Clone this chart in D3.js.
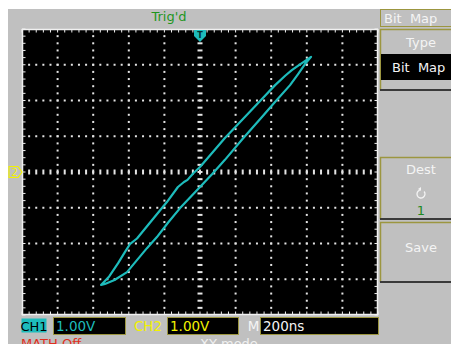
<!DOCTYPE html>
<html>
<head>
<meta charset="utf-8">
<script src="https://cdn.jsdelivr.net/npm/d3@7"></script>
<style>
  html, body { margin: 0; padding: 0; background: #ffffff; }
  svg { display: block; }
  text { font-family: "DejaVu Sans", sans-serif; white-space: pre; }
</style>
</head>
<body>
<script>
// XY-mode trace: CH1 drives X, CH2 drives Y (volts), one pass round the loop
const traceX = [-2.78, -2.55, -2.30, -2.11, -1.97, -1.77, -1.35, -0.93, -0.62, -0.45, -0.35, -0.18, 0.00,
                0.70, 1.26, 1.70, 2.11, 2.40, 2.58, 2.75, 3.12,
                2.95, 2.75, 2.53, 2.10, 1.74, 1.20, 0.70, 0.35, 0.00, -0.56, -0.90, -1.21, -1.49,
                -1.80, -2.05, -2.40, -2.67];
const traceY = [-3.16, -2.92, -2.55, -2.24, -2.02, -1.86, -1.35, -0.84, -0.42, -0.28, -0.22, -0.03, 0.14,
                0.95, 1.54, 2.00, 2.43, 2.70, 2.85, 2.97, 3.22,
                3.02, 2.73, 2.43, 1.95, 1.54, 0.93, 0.34, -0.05, -0.42, -1.01, -1.42, -1.82, -2.13,
                -2.50, -2.80, -3.02, -3.13];

// Graticule: divisions across and down, minor marks per division
const xDivisions = [-5, -4, -3, -2, -1, 0, 1, 2, 3, 4, 5];
const yDivisions = [-4, -3, -2, -1, 0, 1, 2, 3, 4];
const minorPerDiv = 5;

// Readouts
const statusText = "Trig'd";
const ch1Label = "CH1", ch1Scale = "1.00V";
const ch2Label = "CH2", ch2Scale = "1.00V";
const timeLabel = "M", timeScale = "200ns";
const mathText = "MATH Off";
const modeText = "XY mode";

// Soft-key menu
const menuTitle = "Bit  Map";
const menuItems = [
  { label: "Type", value: "Bit  Map" },
  { label: "Dest", value: "1" },
  { label: "Save" }
];

const W = 451, H = 344;
const GRAY = "#c0c0c0", OLIVE = "#9c9640", CYAN = "#1ebcbc", YELLOW = "#f2f200";

const svg = d3.select("body").append("svg").attr("width", W).attr("height", H);

// Panel background
svg.append("rect").attr("x", 8).attr("y", 9).attr("width", W - 8).attr("height", H - 9).attr("fill", GRAY);

// Screen scales
const x = d3.scaleLinear().domain([-5, 5]).range([22, 378]);
const y = d3.scaleLinear().domain([-4, 4]).range([315, 29]);

svg.append("rect")
  .attr("x", x(-5)).attr("y", y(4))
  .attr("width", x(5) - x(-5)).attr("height", y(-4) - y(4))
  .attr("fill", "#000");

const grid = svg.append("g").attr("fill", "#e4e4e4");
const minorX = d3.range(-5 * minorPerDiv, 5 * minorPerDiv + 1).map(k => k / minorPerDiv);
const minorY = d3.range(-4 * minorPerDiv, 4 * minorPerDiv + 1).map(k => k / minorPerDiv);

// Dotted vertical division lines
xDivisions.filter(d => Math.abs(d) < 5 && d !== 0).forEach(d => {
  grid.selectAll(null).data(minorY.filter(v => Math.abs(v) < 4)).join("rect")
    .attr("x", x(d) - 1).attr("y", v => y(v) - 1).attr("width", 2).attr("height", 2);
});
// Dotted horizontal division lines
yDivisions.filter(d => Math.abs(d) < 4 && d !== 0).forEach(d => {
  grid.selectAll(null).data(minorX.filter(v => Math.abs(v) < 5)).join("rect")
    .attr("x", v => x(v) - 1).attr("y", y(d) - 1).attr("width", 2).attr("height", 2);
});
// Centre axes with short minor marks
grid.selectAll(null).data(minorY.filter(v => Math.abs(v) < 4)).join("rect")
  .attr("x", x(0) - 2.5).attr("y", v => y(v) - 1).attr("width", 5).attr("height", 2);
grid.selectAll(null).data(minorX.filter(v => Math.abs(v) < 5)).join("rect")
  .attr("x", v => x(v) - 1).attr("y", y(0) - 2.5).attr("width", 2).attr("height", 5);

// Frame with inward ticks
const frame = svg.append("g").attr("stroke", "#f0f0f0").attr("fill", "none");
frame.append("rect")
  .attr("x", x(-5) + 0.5).attr("y", y(4) + 0.5)
  .attr("width", x(5) - x(-5) - 1).attr("height", y(-4) - y(4) - 1)
  .attr("stroke-width", 1.5);
const tickLen = 3.5;
frame.selectAll(null).data(minorX).join("line")
  .attr("x1", d => x(d)).attr("x2", d => x(d))
  .attr("y1", y(4)).attr("y2", y(4) + tickLen);
frame.selectAll(null).data(minorX).join("line")
  .attr("x1", d => x(d)).attr("x2", d => x(d))
  .attr("y1", y(-4)).attr("y2", y(-4) - tickLen);
frame.selectAll(null).data(minorY).join("line")
  .attr("y1", d => y(d)).attr("y2", d => y(d))
  .attr("x1", x(-5)).attr("x2", x(-5) + tickLen);
frame.selectAll(null).data(minorY).join("line")
  .attr("y1", d => y(d)).attr("y2", d => y(d))
  .attr("x1", x(5)).attr("x2", x(5) - tickLen);

// XY trace
const pts = traceX.map((v, i) => [v, traceY[i]]);
svg.append("path")
  .datum(pts)
  .attr("d", d3.line().x(d => x(d[0])).y(d => y(d[1])).curve(d3.curveLinearClosed))
  .attr("fill", "none")
  .attr("stroke", CYAN)
  .attr("stroke-width", 2.2)
  .attr("stroke-linejoin", "round");

// Trigger position marker at top centre
const tx = x(0), ty = y(4);
svg.append("path")
  .attr("d", `M${tx - 6},${ty + 1} h12 v6 l-6,6 l-6,-6 z`)
  .attr("fill", CYAN);
svg.append("text").attr("x", tx).attr("y", ty + 9)
  .attr("text-anchor", "middle").attr("font-size", 8).attr("font-weight", "bold")
  .attr("fill", "#003030").text("T");

// CH2 ground marker on the left
const my = y(0);
svg.append("path")
  .attr("d", `M9,${my - 5.5} h9 l4,5.5 l-4,5.5 h-9 z`)
  .attr("fill", "none").attr("stroke", YELLOW).attr("stroke-width", 1.2);
svg.append("text").attr("x", 14.5).attr("y", my + 4)
  .attr("text-anchor", "middle").attr("font-size", 10).attr("fill", YELLOW).text("2");

// Status text
svg.append("text").attr("x", 169).attr("y", 21)
  .attr("text-anchor", "middle").attr("font-size", 13).attr("fill", "#1e961e").text(statusText);

// Soft-key menu
const mx = 380.5, menuFill = "#f4f4f4";
svg.append("rect").attr("x", mx).attr("y", 9.5).attr("width", 80).attr("height", 17)
  .attr("fill", GRAY).attr("stroke", OLIVE);
svg.append("text").attr("x", 384).attr("y", 22.5)
  .attr("font-size", 13).attr("fill", menuFill).text(menuTitle);

const boxes = [
  { top: 29, bottom: 90 },
  { top: 157, bottom: 219 },
  { top: 222, bottom: 282 }
];
boxes.forEach(b => {
  svg.append("path").attr("d", `M${mx},${b.bottom} V${b.top + 0.5} H${W + 2}`)
    .attr("fill", "none").attr("stroke", OLIVE).attr("stroke-width", 1.5);
  svg.append("line").attr("x1", mx - 0.5).attr("x2", W).attr("y1", b.bottom).attr("y2", b.bottom)
    .attr("stroke", "#3a3a3a").attr("stroke-width", 2);
});
// Type
svg.append("text").attr("x", 421).attr("y", 46.5).attr("text-anchor", "middle")
  .attr("font-size", 13).attr("fill", menuFill).text(menuItems[0].label);
svg.append("rect").attr("x", 381).attr("y", 54).attr("width", W - 381).attr("height", 26).attr("fill", "#000");
svg.append("text").attr("x", 392).attr("y", 72)
  .attr("font-size", 13).attr("fill", menuFill).text(menuItems[0].value);
// Dest
svg.append("text").attr("x", 421).attr("y", 174).attr("text-anchor", "middle")
  .attr("font-size", 13).attr("fill", menuFill).text(menuItems[1].label);
svg.append("path")
  .attr("d", d3.arc()({ innerRadius: 4, outerRadius: 4, startAngle: 0.9, endAngle: 2 * Math.PI - 0.3 }))
  .attr("transform", "translate(421,194)")
  .attr("fill", "none").attr("stroke", menuFill).attr("stroke-width", 1.3);
svg.append("path").attr("d", "M418,189 l3,-2 l0,4 z").attr("fill", menuFill);
svg.append("text").attr("x", 421).attr("y", 215).attr("text-anchor", "middle")
  .attr("font-size", 13).attr("fill", "#1e8a1e").text(menuItems[1].value);
// Save
svg.append("text").attr("x", 421).attr("y", 252).attr("text-anchor", "middle")
  .attr("font-size", 13).attr("fill", menuFill).text(menuItems[2].label);

// Bottom readouts
svg.append("rect").attr("x", 21.5).attr("y", 318.5).attr("width", 25).attr("height", 14).attr("fill", CYAN);
svg.append("text").attr("x", 34).attr("y", 330.5).attr("text-anchor", "middle")
  .attr("font-family", "DejaVu Sans Condensed").attr("font-size", 13).attr("fill", "#000").text(ch1Label);

const readBoxes = [
  { x: 53, w: 72, text: ch1Scale, color: CYAN },
  { x: 167, w: 71, text: ch2Scale, color: YELLOW },
  { x: 260, w: 118, text: timeScale, color: "#f4f4f4" }
];
readBoxes.forEach(b => {
  svg.append("rect").attr("x", b.x + 0.5).attr("y", 317.5).attr("width", b.w).attr("height", 17)
    .attr("fill", "#000").attr("stroke", OLIVE);
  svg.append("text").attr("x", b.x + 3).attr("y", 331)
    .attr("font-family", "DejaVu Sans Condensed")
    .attr("font-size", 13.5).attr("fill", b.color).text(b.text);
});
svg.append("text").attr("x", 148).attr("y", 331).attr("text-anchor", "middle")
  .attr("font-family", "DejaVu Sans Condensed")
  .attr("font-size", 13.5).attr("fill", YELLOW).text(ch2Label);
svg.append("text").attr("x", 253.5).attr("y", 331).attr("text-anchor", "middle")
  .attr("font-family", "DejaVu Sans Condensed")
  .attr("font-size", 13.5).attr("fill", "#f4f4f4").text(timeLabel);

svg.append("text").attr("x", 21).attr("y", 348)
  .attr("font-size", 13).attr("fill", "#e03020").text(mathText);
svg.append("text").attr("x", 200).attr("y", 348)
  .attr("font-size", 13).attr("fill", "#f0f0f0").text(modeText);
</script>
</body>
</html>
